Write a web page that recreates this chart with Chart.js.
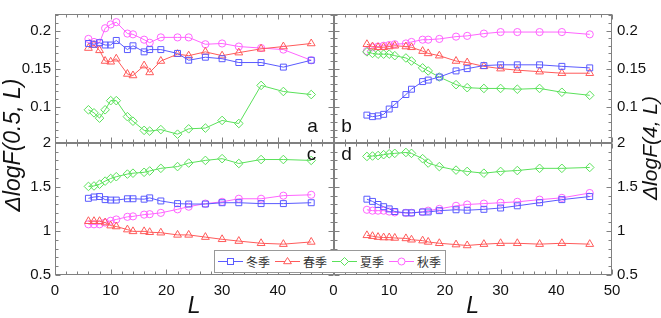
<!DOCTYPE html>
<html lang="zh">
<head>
  <meta charset="UTF-8" />
  <title>ΔlogF – 四季</title>
  <script src="https://cdn.jsdelivr.net/npm/chart.js"></script>
  <style>
    body { margin: 0; background: #fff; }
    #wrap { position: relative; width: 661px; height: 318px; }
    #legende {
      position: absolute; left: 214px; top: 250px; width: 230px; height: 21px;
      border: 1px solid #999; background: #fff;
      font: 12px "Noto Sans CJK SC", sans-serif; color: #333;
    }
    .item { position: absolute; top: 0; height: 21px; display: flex; align-items: center; }
    .item span { margin-left: 3px; }
  </style>
</head>
<body>
<div id="wrap">
  <canvas id="graphique" width="661" height="318"></canvas>
  <div id="legende"></div>
</div>

<script>
  // L values (same for all four panels)
  const L = [6, 7, 8, 9, 10, 11, 13, 14, 16, 17, 19, 22, 24, 27, 30, 33, 37, 41, 46];

  // panel a : ΔlogF(0.5, L), top-left
  const winterA = [0.183, 0.182, 0.184, 0.181, 0.181, 0.187, 0.175, 0.180, 0.172, 0.175, 0.175, 0.170, 0.161, 0.165, 0.163, 0.158, 0.158, 0.152, 0.161];
  const springA = [0.177, 0.181, 0.174, 0.160, 0.159, 0.163, 0.143, 0.141, 0.154, 0.145, 0.160, 0.169, 0.167, 0.172, 0.167, 0.171, 0.176, 0.179, 0.183];
  const summerA = [0.096, 0.092, 0.085, 0.096, 0.108, 0.108, 0.087, 0.081, 0.069, 0.068, 0.070, 0.064, 0.071, 0.072, 0.082, 0.078, 0.128, 0.120, 0.116];
  const autumnA = [0.189, 0.185, 0.184, 0.203, 0.208, 0.211, 0.196, 0.195, 0.188, 0.184, 0.191, 0.191, 0.191, 0.182, 0.183, 0.179, 0.177, 0.175, 0.161];

  // panel b : ΔlogF(4, L), top-right
  const winterB = [0.089, 0.087, 0.088, 0.090, 0.097, 0.103, 0.116, 0.123, 0.133, 0.135, 0.139, 0.147, 0.150, 0.154, 0.155, 0.155, 0.155, 0.153, 0.151];
  const springB = [0.182, 0.179, 0.178, 0.178, 0.179, 0.180, 0.179, 0.178, 0.173, 0.170, 0.167, 0.160, 0.158, 0.153, 0.150, 0.148, 0.146, 0.144, 0.144];
  const summerB = [0.172, 0.170, 0.169, 0.169, 0.169, 0.167, 0.164, 0.160, 0.151, 0.147, 0.139, 0.129, 0.125, 0.124, 0.124, 0.123, 0.124, 0.119, 0.115];
  const autumnB = [0.173, 0.178, 0.179, 0.180, 0.181, 0.182, 0.183, 0.185, 0.188, 0.188, 0.189, 0.192, 0.193, 0.196, 0.198, 0.198, 0.198, 0.198, 0.195];

  // panel c : ΔlogF(0.5, L), bottom-left
  const winterC = [1.37, 1.385, 1.39, 1.355, 1.35, 1.35, 1.365, 1.365, 1.36, 1.375, 1.34, 1.31, 1.305, 1.305, 1.32, 1.32, 1.31, 1.31, 1.32];
  const springC = [1.11, 1.11, 1.11, 1.095, 1.06, 1.05, 1.015, 0.995, 0.995, 0.985, 0.98, 0.955, 0.955, 0.93, 0.905, 0.885, 0.86, 0.85, 0.875];
  const summerC = [1.505, 1.51, 1.53, 1.565, 1.595, 1.615, 1.645, 1.655, 1.665, 1.68, 1.71, 1.73, 1.77, 1.80, 1.82, 1.765, 1.81, 1.81, 1.80];
  const autumnC = [1.075, 1.075, 1.075, 1.095, 1.115, 1.13, 1.16, 1.165, 1.185, 1.19, 1.205, 1.245, 1.275, 1.31, 1.33, 1.365, 1.365, 1.40, 1.41];

  // panel d : ΔlogF(4, L), bottom-right
  const winterD = [1.36, 1.335, 1.30, 1.275, 1.25, 1.22, 1.205, 1.205, 1.215, 1.215, 1.23, 1.24, 1.235, 1.245, 1.26, 1.285, 1.32, 1.355, 1.39];
  const springD = [0.95, 0.94, 0.93, 0.925, 0.925, 0.92, 0.915, 0.90, 0.89, 0.875, 0.86, 0.845, 0.835, 0.85, 0.86, 0.86, 0.85, 0.86, 0.85];
  const summerD = [1.845, 1.85, 1.855, 1.865, 1.875, 1.88, 1.89, 1.88, 1.82, 1.77, 1.73, 1.69, 1.675, 1.655, 1.675, 1.685, 1.71, 1.71, 1.72];
  const autumnD = [1.24, 1.23, 1.23, 1.23, 1.22, 1.21, 1.205, 1.205, 1.215, 1.23, 1.25, 1.285, 1.30, 1.31, 1.32, 1.33, 1.355, 1.375, 1.43];

  // tick labels
  const xTicksLeft = [0, 10, 20, 30, 40];
  const xTicksRight = [0, 10, 20, 30, 40, 50];
  const yTicksTop = [0.1, 0.15, 0.2];
  const yTicksBottom = [0.5, 1, 1.5, 2];

  const seasons = [
    { name: '冬季', color: 'rgb(90,90,255)', style: 'rect', radius: 4.2, values: { a: winterA, b: winterB, c: winterC, d: winterD } },
    { name: '春季', color: 'rgb(255,90,90)', style: 'triangle', radius: 4.5, values: { a: springA, b: springB, c: springC, d: springD } },
    { name: '夏季', color: 'rgb(90,225,90)', style: 'rectRot', radius: 4.3, values: { a: summerA, b: summerB, c: summerC, d: summerD } },
    { name: '秋季', color: 'rgb(255,100,255)', style: 'circle', radius: 3.6, values: { a: autumnA, b: autumnB, c: autumnC, d: autumnD } }
  ];

  // which axes each panel uses
  const panels = { a: ['xL', 'yT'], b: ['xR', 'yTR'], c: ['xL', 'yB'], d: ['xR', 'yBR'] };

  const datasets = [];
  for (const p of Object.keys(panels)) {
    for (const s of seasons) {
      datasets.push({
        label: s.name,
        data: s.values[p].map((v, i) => ({ x: L[i], y: v })),
        xAxisID: panels[p][0],
        yAxisID: panels[p][1],
        borderColor: s.color,
        backgroundColor: s.color,
        borderWidth: 1,
        pointStyle: s.style,
        pointRadius: s.radius,
        pointBorderWidth: 1,
        pointBorderColor: s.color,
        pointBackgroundColor: 'rgba(0,0,0,0)',
        tension: 0
      });
    }
  }

  const tickFont = { family: 'Liberation Sans', size: 15 };
  const fmt = v => String(v);

  function xAxis(ticks, weight) {
    return {
      type: 'linear', position: 'bottom', stack: 'bas', weight: weight,
      min: 0, max: 50,
      grid: { display: false, drawTicks: false },
      border: { display: false },
      afterBuildTicks: s => { s.ticks = ticks.map(v => ({ value: v })); },
      afterFit: s => { s.height = 43; },
      ticks: { padding: 7, color: '#111', font: tickFont, autoSkip: false, maxRotation: 0, callback: fmt },
      title: {
        display: true, text: 'L', color: '#111', padding: 0,
        font: { family: 'Liberation Sans', size: 23, style: 'italic', lineHeight: 1 }
      }
    };
  }

  function yAxis(pos, min, max, ticks, weight, stackWeight, width, pad) {
    return {
      type: 'linear', position: pos, stack: 'cote', weight: weight, stackWeight: stackWeight,
      min: min, max: max,
      grid: { display: false, drawTicks: false },
      border: { display: false },
      afterBuildTicks: s => { s.ticks = ticks.map(v => ({ value: v })); },
      afterFit: s => { s.width = width; },
      ticks: { padding: pad, color: '#111', font: tickFont, autoSkip: false, callback: fmt }
    };
  }

  // frames, inward ticks, panel letters and y titles
  const cadres = {
    id: 'cadres',
    afterDraw(chart) {
      const ctx = chart.ctx, sc = chart.scales;
      ctx.save();
      ctx.strokeStyle = '#808080';
      ctx.lineWidth = 1;
      for (const p of Object.keys(panels)) {
        const xs = sc[panels[p][0]], ys = sc[panels[p][1]];
        const l = Math.round(xs.left) + 0.5, r = Math.round(xs.right) - 0.5;
        const t = Math.round(ys.top) + 0.5, b = Math.round(ys.bottom) - 0.5;
        ctx.strokeRect(l, t, r - l, b - t);
        ctx.beginPath();
        for (let v = 0; v <= 50; v += 2) {
          const px = Math.round(xs.getPixelForValue(v)) + 0.5;
          const len = v % 10 === 0 ? 5 : 3;
          ctx.moveTo(px, b); ctx.lineTo(px, b - len);
          ctx.moveTo(px, t); ctx.lineTo(px, t + len);
        }
        const top = p === 'a' || p === 'b';
        const step = top ? 0.01 : 0.1;
        const maj = top ? 0.05 : 0.5;
        for (let k = Math.ceil(ys.min / step); k * step <= ys.max + 1e-9; k++) {
          const v = k * step;
          const py = Math.round(ys.getPixelForValue(v)) + 0.5;
          const isMaj = Math.abs(v / maj - Math.round(v / maj)) < 1e-6;
          const len = isMaj ? 5 : 3;
          ctx.moveTo(l, py); ctx.lineTo(l + len, py);
          ctx.moveTo(r, py); ctx.lineTo(r - len, py);
        }
        ctx.stroke();
      }

      ctx.fillStyle = '#111';
      ctx.font = '19px "Liberation Sans"';
      ctx.textAlign = 'center';
      ctx.textBaseline = 'middle';
      ctx.fillText('a', sc.xL.right - 21, sc.yT.bottom - 16);
      ctx.fillText('b', sc.xR.left + 13, sc.yTR.bottom - 16);
      ctx.fillText('c', sc.xL.right - 22, sc.yB.top + 12);
      ctx.fillText('d', sc.xR.left + 13, sc.yBR.top + 12);

      ctx.font = 'italic 23px "Liberation Sans"';
      ctx.save();
      ctx.translate(14, 145);
      ctx.rotate(-Math.PI / 2);
      ctx.fillText('ΔlogF(0.5, L)', 0, 0);
      ctx.restore();
      ctx.font = 'italic 21px "Liberation Sans"';
      ctx.save();
      ctx.translate(651, 148);
      ctx.rotate(-Math.PI / 2);
      ctx.fillText('ΔlogF(4, L)', 0, 0);
      ctx.restore();
      ctx.restore();
    }
  };

  const ctx = document.getElementById('graphique').getContext('2d');
  const chart = new Chart(ctx, {
    type: 'line',
    data: { datasets: datasets },
    options: {
      responsive: false,
      animation: false,
      layout: { padding: { top: 2, left: 0, right: 0, bottom: 0 } },
      plugins: { legend: { display: false }, tooltip: { enabled: false } },
      scales: {
        xL: xAxis(xTicksLeft, 0),
        xR: xAxis(xTicksRight, 1),
        yT: yAxis('left', 0.0527, 0.2217, yTicksTop, 1, 134.7, 55, 4),
        yB: yAxis('left', 0.5, 2, yTicksBottom, 0, 138.3, 55, 4),
        yTR: yAxis('right', 0.0527, 0.2217, yTicksTop, 0, 134.7, 49, 5),
        yBR: yAxis('right', 0.5, 2, yTicksBottom, 1, 138.3, 49, 5)
      }
    },
    plugins: [cadres]
  });

  // legend built from the same season list
  const legende = document.getElementById('legende');
  seasons.forEach((s, i) => {
    const item = document.createElement('div');
    item.className = 'item';
    item.style.left = (3 + i * 57) + 'px';
    const c = 12.5, m = 7.5;
    let marker;
    if (s.style === 'rect') marker = `<rect x="${c - 3}" y="${m - 3}" width="6" height="6"/>`;
    else if (s.style === 'triangle') marker = `<polygon points="${c},${m - 4} ${c + 3.9},${m + 2.2} ${c - 3.9},${m + 2.2}"/>`;
    else if (s.style === 'rectRot') marker = `<polygon points="${c},${m - 4} ${c + 4},${m} ${c},${m + 4} ${c - 4},${m}"/>`;
    else marker = `<circle cx="${c}" cy="${m}" r="3.5"/>`;
    item.innerHTML =
      `<svg width="25" height="15" fill="#fff" stroke="${s.color}" stroke-width="1">` +
      `<line x1="0" y1="${m}" x2="25" y2="${m}"/>${marker}</svg><span>${s.name}</span>`;
    legende.appendChild(item);
  });
</script>
</body>
</html>
